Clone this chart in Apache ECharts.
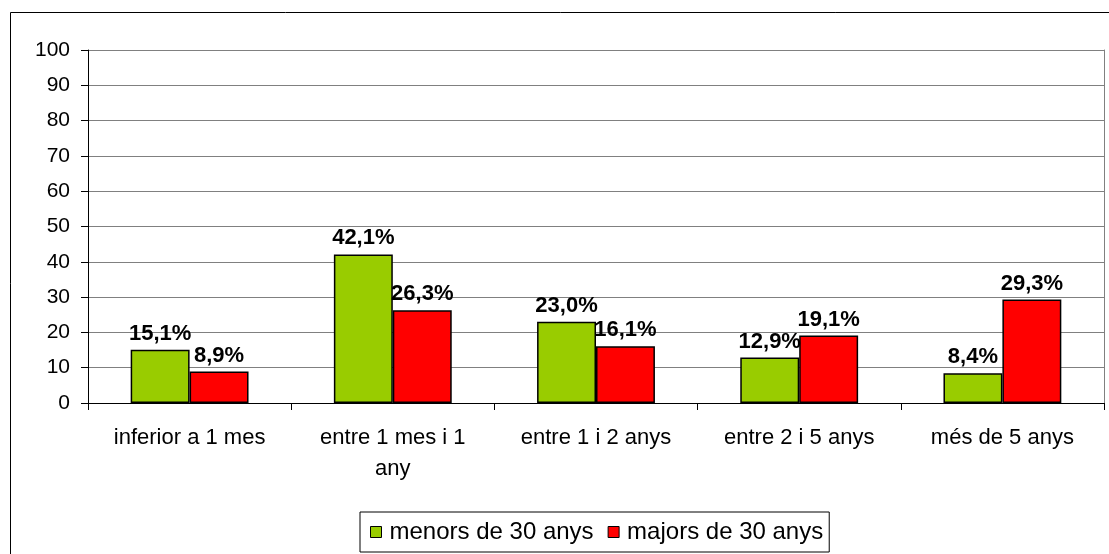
<!DOCTYPE html>
<html>
<head>
<meta charset="utf-8">
<script src="https://cdn.jsdelivr.net/npm/echarts@6/dist/echarts.min.js"></script>
<style>
  html, body { margin: 0; padding: 0; background: #ffffff; }
  #chart { width: 1109px; height: 554px; }
</style>
</head>
<body>
<div id="chart"></div>
<script>
  // dades
  const categories = ['inferior a 1 mes', 'entre 1 mes i 1\nany', 'entre 1 i 2 anys', 'entre 2 i 5 anys', 'més de 5 anys'];
  const menors = [15.1, 42.1, 23.0, 12.9, 8.4];
  const majors = [8.9, 26.3, 16.1, 19.1, 29.3];
  const seriesNames = ['menors de 30 anys', 'majors de 30 anys'];

  const font = 'Liberation Sans, Arial, sans-serif';
  let myChart = echarts.init(document.getElementById('chart'));

  function fmt(p) {
    return p.value.toFixed(1).replace('.', ',') + '%';
  }

  const barLabel = { show: true, position: 'top', distance: 5, formatter: fmt, fontSize: 22, fontWeight: 'bold', color: '#000', fontFamily: font };

  myChart.setOption({
    animation: false,
    textStyle: { fontFamily: font },
    graphic: [{
      type: 'rect',
      shape: { x: 10.5, y: 12.5, width: 1110, height: 560 },
      style: { fill: 'none', stroke: '#000', lineWidth: 1 },
      silent: true, z: -1
    }],
    grid: { left: 88, right: 5, top: 50, bottom: 151 },
    legend: {
      top: 512,
      left: 360,
      itemWidth: 11,
      itemHeight: 11,
      itemGap: 14,
      padding: [8, 6, 8, 10],
      borderColor: '#000',
      borderWidth: 1,
      textStyle: { fontSize: 24, color: '#000', fontFamily: font, padding: [0, 0, 0, 3] },
      data: seriesNames.map(n => ({ name: n, icon: 'rect', itemStyle: { borderColor: '#000', borderWidth: 1 } }))
    },
    xAxis: {
      type: 'category',
      data: categories,
      axisLine: { lineStyle: { color: '#000', width: 1 } },
      axisTick: { show: true, length: 7, lineStyle: { color: '#000' } },
      axisLabel: { fontSize: 22, color: '#000', margin: 19, lineHeight: 31, fontFamily: font },
      splitLine: { show: false }
    },
    yAxis: [{
      type: 'value',
      min: 0, max: 100, interval: 10,
      axisLine: { show: true, lineStyle: { color: '#000' } },
      axisTick: { show: true, length: 7, lineStyle: { color: '#000' } },
      axisLabel: { fontSize: 21, color: '#000', margin: 18, fontFamily: font },
      splitLine: { lineStyle: { color: '#808080', width: 1 } }
    }, {
      type: 'value',
      position: 'right',
      min: 0, max: 100, interval: 10,
      axisLine: { show: true, lineStyle: { color: '#808080' } },
      axisTick: { show: false },
      axisLabel: { show: false },
      splitLine: { show: false }
    }],
    series: [{
      name: seriesNames[0],
      type: 'bar',
      data: menors,
      barGap: '0%',
      barCategoryGap: '42%',
      itemStyle: { color: '#99cc00', borderColor: '#000', borderWidth: 1.5 },
      label: barLabel
    }, {
      name: seriesNames[1],
      type: 'bar',
      data: majors,
      barGap: '0%',
      barCategoryGap: '42%',
      itemStyle: { color: '#ff0000', borderColor: '#000', borderWidth: 1.5 },
      label: barLabel
    }]
  });
</script>
</body>
</html>
